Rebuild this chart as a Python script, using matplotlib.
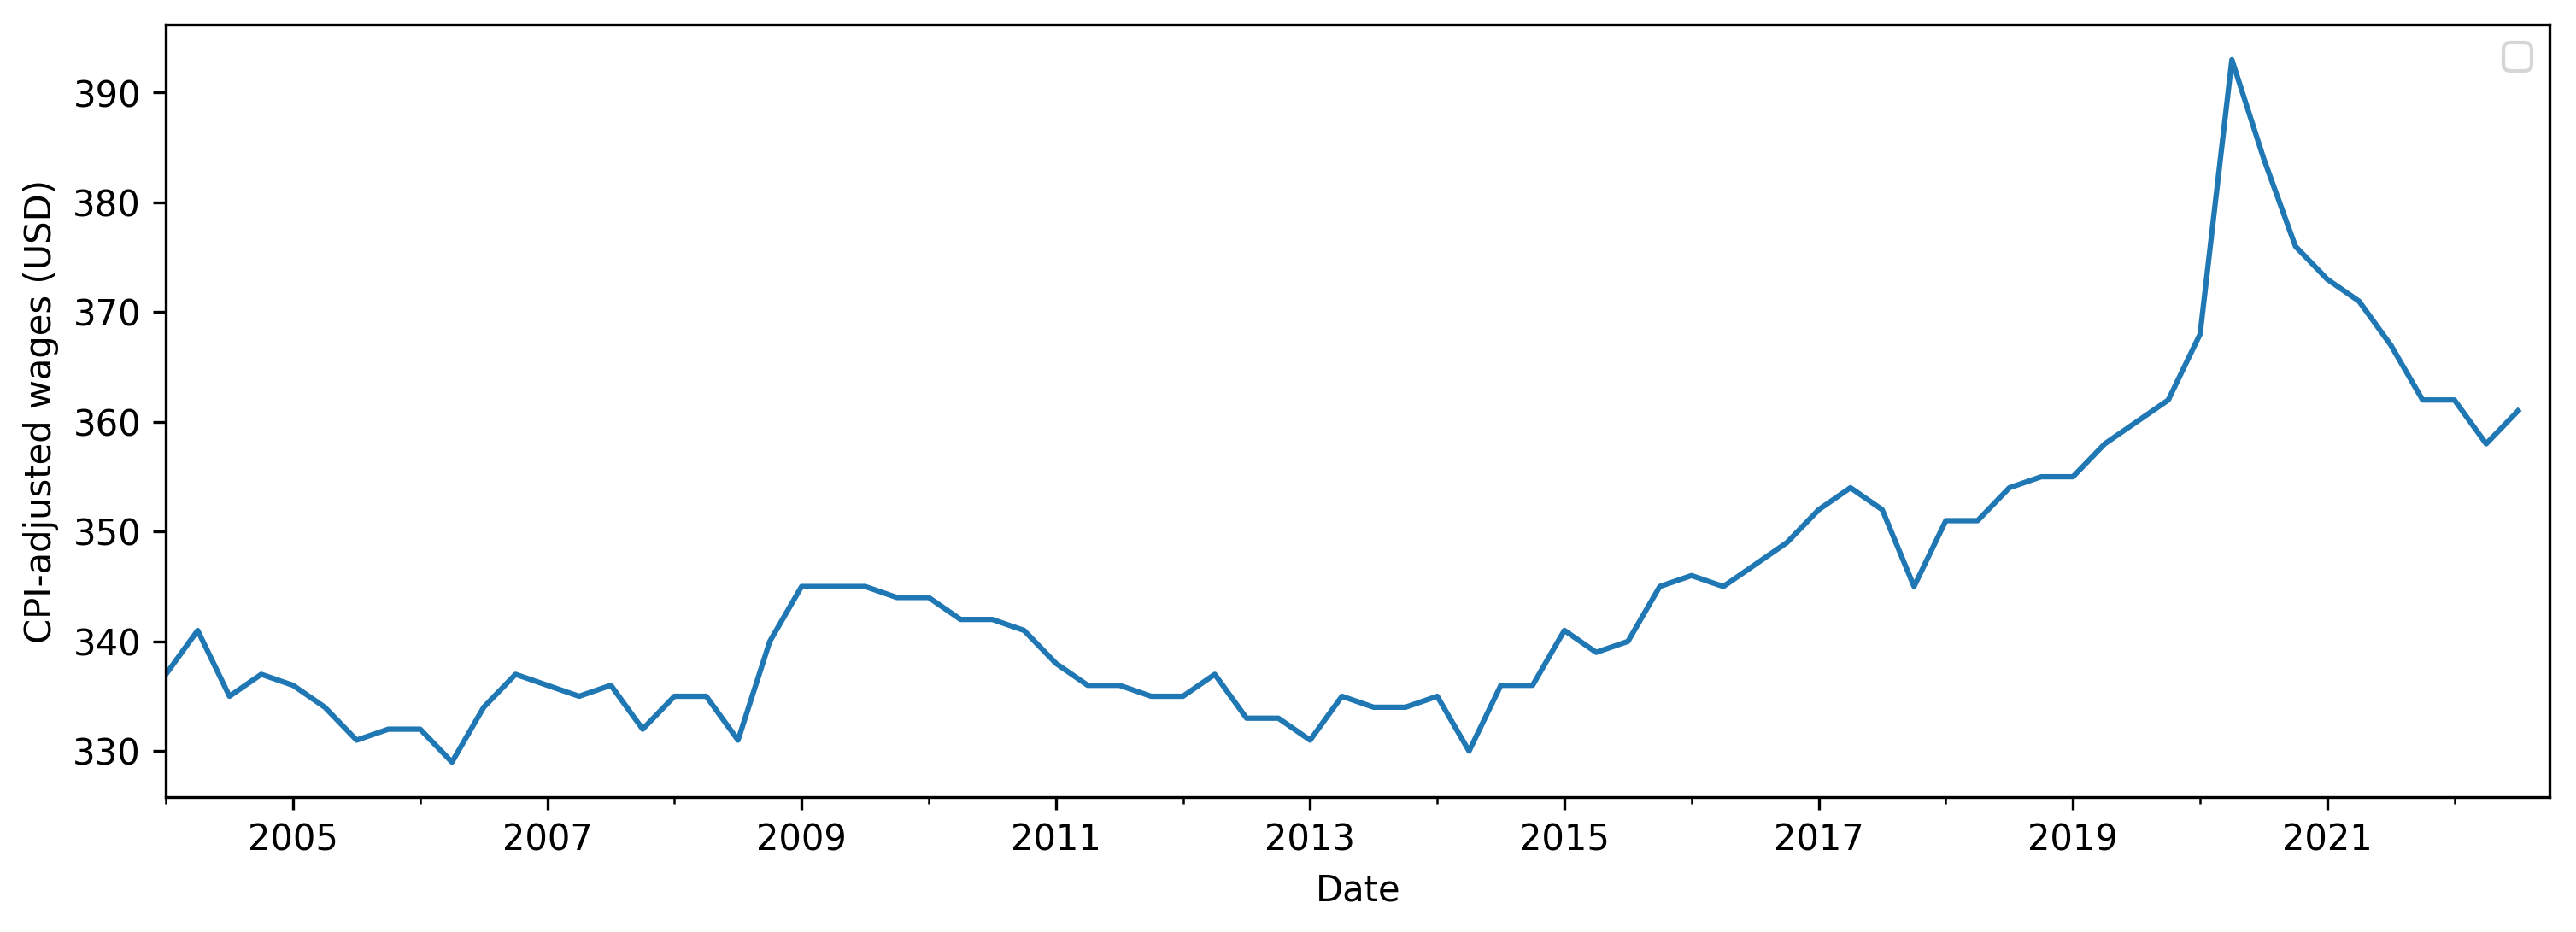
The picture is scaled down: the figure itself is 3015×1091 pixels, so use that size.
#!/usr/bin/env python3

import matplotlib

matplotlib.use("Agg")
import matplotlib.pyplot as plt
from matplotlib.ticker import FixedFormatter, FixedLocator, NullFormatter
import pandas as pd

# quarterly CPI-adjusted weekly wages, 2004Q1 .. 2022Q3
start_quarter = "2004Q1"
wages = [
    337, 341, 335, 337,  # 2004
    336, 334, 331, 332,  # 2005
    332, 329, 334, 337,  # 2006
    336, 335, 336, 332,  # 2007
    335, 335, 331, 340,  # 2008
    345, 345, 345, 344,  # 2009
    344, 342, 342, 341,  # 2010
    338, 336, 336, 335,  # 2011
    335, 337, 333, 333,  # 2012
    331, 335, 334, 334,  # 2013
    335, 330, 336, 336,  # 2014
    341, 339, 340, 345,  # 2015
    346, 345, 347, 349,  # 2016
    352, 354, 352, 345,  # 2017
    351, 351, 354, 355,  # 2018
    355, 358, 360, 362,  # 2019
    368, 393, 384, 376,  # 2020
    373, 371, 367, 362,  # 2021
    362, 358, 361,       # 2022
]

# labelled years and the unlabelled years in between
major_years = [2005, 2007, 2009, 2011, 2013, 2015, 2017, 2019, 2021]
minor_years = [2004, 2006, 2008, 2010, 2012, 2014, 2016, 2018, 2020, 2022]

quarters = pd.period_range(start_quarter, periods=len(wages), freq="Q")
series = pd.Series(wages, index=quarters)

fig, ax = plt.subplots(figsize=(10.05, 3.637), dpi=300)
fig.subplots_adjust(left=0.0644, right=0.9898, top=0.9735, bottom=0.1446)

series.plot(ax=ax, color="#1f77b4", linewidth=1.5, label="_nolegend_")

# axis runs one quarter past the last point
ax.set_xlim(quarters[0].ordinal, quarters[-1].ordinal + 1)


def year_pos(y):
    return pd.Period(f"{y}Q1", freq="Q").ordinal


ax.xaxis.set_major_locator(FixedLocator([year_pos(y) for y in major_years]))
ax.xaxis.set_major_formatter(FixedFormatter([str(y) for y in major_years]))
ax.xaxis.set_minor_locator(FixedLocator([year_pos(y) for y in minor_years]))
ax.xaxis.set_minor_formatter(NullFormatter())

ax.set_xlabel("Date")
ax.set_ylabel("CPI-adjusted wages (USD)")
ax.legend(handles=[], loc="upper right")

plt.savefig("out.png", dpi=300)
